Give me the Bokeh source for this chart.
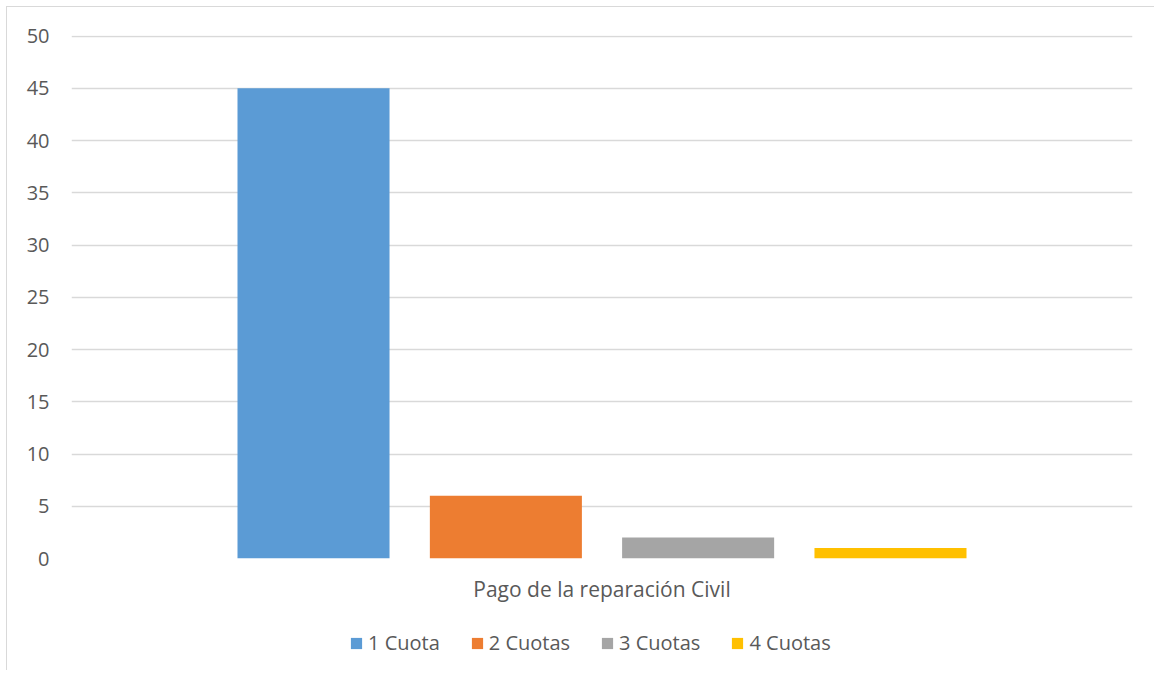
from bokeh.plotting import figure
from bokeh.models import FactorRange, Range1d, Legend, LegendItem, ColumnDataSource
from bokeh.layouts import column
from bokeh.transform import dodge
from bokeh.embed import file_html
from bokeh.resources import INLINE

category = ["Pago de la reparación Civil"]
series_names = ["1 Cuota", "2 Cuotas", "3 Cuotas", "4 Cuotas"]
series_values = [45, 6, 2, 1]
series_colors = ["#5B9BD5", "#ED7D31", "#A5A5A5", "#FFC000"]
y_ticks = [0, 5, 10, 15, 20, 25, 30, 35, 40, 45, 50]

FONT = "Open Sans"
TXT = "#595959"
FS = "20px"

p = figure(x_range=FactorRange(*category), y_range=Range1d(0, 50.05),
           frame_width=1061, frame_height=523, output_backend="svg", toolbar_location=None,
           min_border_left=64, min_border_right=22, min_border_top=28, min_border_bottom=62)
p.outline_line_color = None

src = ColumnDataSource(dict(cat=category, **{f"s{i}": [v] for i, v in enumerate(series_values)}))
offsets = [-0.2719, -0.0906, 0.0906, 0.2719]
for i, (name, col) in enumerate(zip(series_names, series_colors)):
    p.vbar(x=dodge("cat", offsets[i], range=p.x_range), top=f"s{i}", width=0.1433,
           source=src, fill_color=col, line_color=None)

p.yaxis.ticker = y_ticks
p.yaxis.axis_line_color = None
p.yaxis.major_tick_line_color = None
p.yaxis.minor_tick_line_color = None
p.yaxis.major_label_text_font = FONT
p.yaxis.major_label_text_font_size = FS
p.yaxis.major_label_text_color = TXT
p.yaxis.major_label_standoff = 16

p.xaxis.axis_line_color = None
p.xaxis.major_tick_line_color = None
p.xaxis.minor_tick_line_color = None
p.xaxis.major_label_text_font = FONT
p.xaxis.major_label_text_font_size = "21px"
p.xaxis.major_label_text_color = TXT
p.xaxis.major_label_standoff = 10

p.xgrid.grid_line_color = None
p.ygrid.grid_line_color = "#d9d9d9"
p.ygrid.grid_line_width = 1.3

# legend strip below the chart (swatch renderers sit outside the visible range)
lg = figure(width=1147, height=50, x_range=Range1d(0, 1), y_range=Range1d(0, 1),
            output_backend="svg", toolbar_location=None, min_border=0)
lg.axis.visible = False
lg.grid.grid_line_color = None
lg.outline_line_color = None
items = []
for name, col in zip(series_names, series_colors):
    r = lg.vbar(x=[-10], top=[-10], width=0.1, fill_color=col, line_color=None)
    items.append(LegendItem(label=name, renderers=[r]))
legend = Legend(items=items, orientation="horizontal", location=(278, 14),
                label_text_font=FONT, label_text_font_size=FS, label_text_color=TXT,
                glyph_width=14, glyph_height=14, label_standoff=5, spacing=30,
                border_line_color=None, background_fill_alpha=0, margin=0, padding=4)
lg.add_layout(legend, "center")

layout = column(p, lg, spacing=0)
layout.styles = {"border-top": "1px solid #d9d9d9", "border-left": "1px solid #d9d9d9",
                 "margin-left": "6px", "margin-top": "6px"}

open("out.html", "w").write(file_html(layout, INLINE))
